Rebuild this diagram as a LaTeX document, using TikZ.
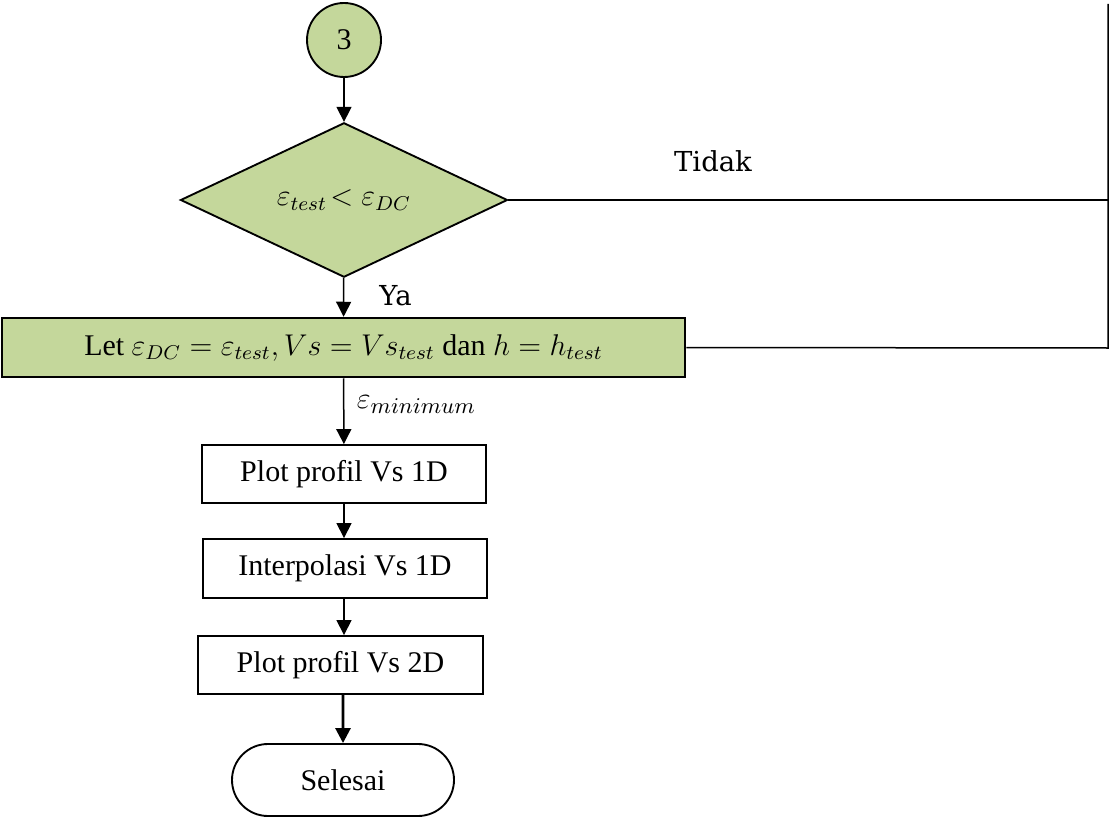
\documentclass[tikz,border=0pt,12pt]{standalone}
\usepackage{fontspec}
\setmainfont{Liberation Serif}
\newfontfamily\labelfont{DejaVu Serif}
\usetikzlibrary{shapes.geometric,shapes.misc,arrows.meta}
\definecolor{olivefill}{RGB}{196,215,155}
\tikzset{
  flow/.style={draw, line width=0.75pt, inner sep=0pt, align=center},
  gbox/.style={flow, fill=olivefill, line width=1pt},
  wbox/.style={flow, fill=white, minimum height=23.2pt},
  conn/.style={line width=0.6pt},
  arr/.style={conn, -{Triangle[length=6pt,width=6pt]}},
  lbl/.style={inner sep=0pt, font=\fontsize{11}{13}\selectfont}
}
\begin{document}
\begin{tikzpicture}[x=0.4pt,y=-0.4pt]
\useasboundingbox (0,0) rectangle (1113,819);
\node[gbox, circle, minimum size=29.6pt, line width=0.75pt] (c3) at (344,40) {3};
\node[gbox, diamond, minimum width=130.8pt, minimum height=55.6pt, line width=0.75pt] (dec) at (344,200) {$\varepsilon_{test}\!<\varepsilon_{DC}$};
\node[gbox, minimum width=273.2pt, minimum height=23.6pt] (let) at (343.5,347.5) {Let $\varepsilon_{DC}=\varepsilon_{test}, Vs=Vs_{test}$ dan $h=h_{test}$};
\node[wbox, minimum width=113.6pt] (p1) at (344,474) {Plot profil Vs 1D};
\node[wbox, minimum width=113.6pt, minimum height=23.6pt] (ip) at (345,568.5) {Interpolasi Vs 1D};
\node[wbox, minimum width=114pt] (p2) at (340.5,665) {Plot profil Vs 2D};
\node[flow, rounded rectangle, minimum width=88.8pt, minimum height=28.8pt] (end) at (343,780) {Selesai};
\coordinate (jn) at (1108,200);
\coordinate (jb) at (1108,348);
\coordinate (top) at (1108,4);
\draw[arr] (c3) -- (dec);
\draw[arr] (dec) -- (let) node[lbl, pos=0.45, right=14pt] {\labelfont Ya};
\draw[arr] (let) -- (p1) node[lbl, pos=0.4, right=5pt, font=\fontsize{12.5}{14}\selectfont] {$\varepsilon_{minimum}$};
\draw[arr] (p1) -- (ip.north -| p1.south);
\draw[arr] (ip.south -| p1.south) -- (p2.north -| p1.south);
\draw[arr, line width=1.1pt] (end.north |- p2.south) -- (end);
\draw[conn] (dec.east) -- (jn);
\draw[conn] (let.east) -- (jb) -- (top);
\node[lbl] (tidak) at (713,161) {\labelfont Tidak};
\end{tikzpicture}
\end{document}
